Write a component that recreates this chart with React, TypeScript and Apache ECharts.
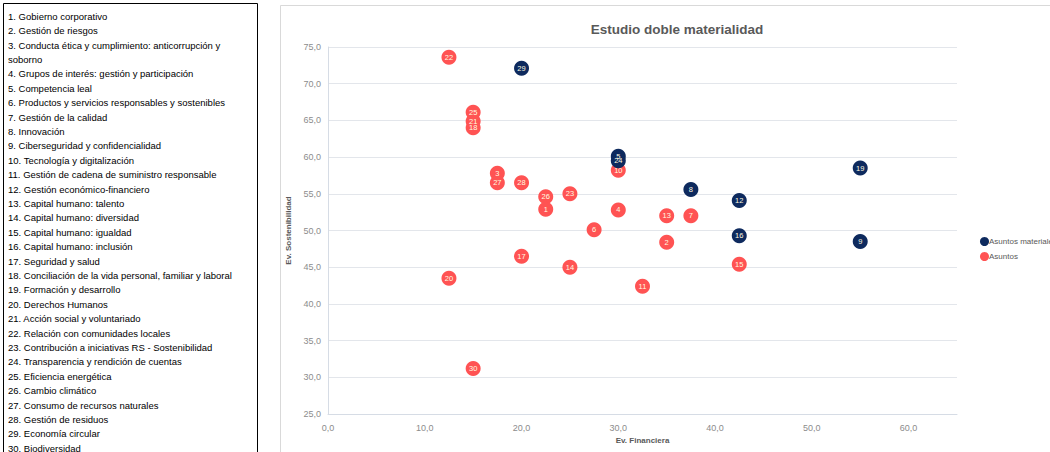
import React, { useEffect, useRef } from "react";
import * as echarts from "echarts";

const topics = [
  "1. Gobierno corporativo",
  "2. Gestión de riesgos",
  "3. Conducta ética y cumplimiento: anticorrupción y soborno",
  "4. Grupos de interés: gestión y participación",
  "5. Competencia leal",
  "6. Productos y servicios responsables y sostenibles",
  "7. Gestión de la calidad",
  "8. Innovación",
  "9. Ciberseguridad y confidencialidad",
  "10. Tecnología y digitalización",
  "11. Gestión de cadena de suministro responsable",
  "12. Gestión económico-financiero",
  "13. Capital humano: talento",
  "14. Capital humano: diversidad",
  "15. Capital humano: igualdad",
  "16. Capital humano: inclusión",
  "17. Seguridad y salud",
  "18. Conciliación de la vida personal, familiar y laboral",
  "19. Formación y desarrollo",
  "20. Derechos Humanos",
  "21. Acción social y voluntariado",
  "22. Relación con comunidades locales",
  "23. Contribución a iniciativas RS - Sostenibilidad",
  "24. Transparencia y rendición de cuentas",
  "25. Eficiencia energética",
  "26. Cambio climático",
  "27. Consumo de recursos naturales",
  "28. Gestión de residuos",
  "29. Economía circular",
  "30. Biodiversidad",
];

const seriesNames = ["Asuntos materiales", "Asuntos"];

const materialIds = [29, 5, 24, 8, 12, 16, 19, 9];
const materialFin = [20, 30, 30, 37.5, 42.5, 42.5, 55, 55];
const materialSos = [72.1, 60.1, 59.5, 55.6, 54.1, 49.3, 58.5, 48.5];

const otherIds = [22, 25, 21, 18, 3, 27, 28, 26, 1, 23, 10, 4, 6, 13, 7, 2, 17, 14, 15, 11, 20, 30];
const otherFin = [12.5, 15, 15, 15, 17.5, 17.5, 20, 22.5, 22.5, 25, 30, 30, 27.5, 35, 37.5, 35, 20, 25, 42.5, 32.5, 12.5, 15];
const otherSos = [73.6, 66.1, 64.9, 64.0, 57.8, 56.5, 56.5, 54.6, 52.9, 55.0, 58.2, 52.8, 50.1, 52.0, 52.0, 48.4, 46.5, 45.0, 45.4, 42.4, 43.5, 31.2];

const xTitle = "Ev. Financiera";
const yTitle = "Ev. Sostenibilidad";
const chartTitle = "Estudio doble materialidad";

const NAVY = "#0e2a5e";
const RED = "#ff5353";
const FONT = "'Liberation Sans', Arial, sans-serif";

const fmt = (v: number) => v.toFixed(1).replace(".", ",");

export default function App() {
  const ref = useRef<HTMLDivElement>(null);
  useEffect(() => {
    if (!ref.current) return;
    const chart = echarts.init(ref.current, null, { renderer: "svg" });
    const mk = (ids: number[], xs: number[], ys: number[]) =>
      ids.map((id, i) => ({ value: [xs[i], ys[i]], name: String(id) }));
    const labelCfg = {
      show: true,
      position: "inside",
      formatter: (p: any) => p.name,
      color: "#fffbe0",
      fontSize: 7.5,
      fontFamily: FONT,
    };
    chart.setOption({
      animation: false,
      backgroundColor: "#ffffff",
      textStyle: { fontFamily: FONT },
      title: {
        text: chartTitle,
        left: 672,
        top: 17,
        textAlign: "center",
        textStyle: { fontSize: 13.5, fontWeight: "bold", color: "#595959", fontFamily: FONT },
      },
      legend: {
        orient: "vertical",
        left: 975,
        top: 232,
        itemWidth: 9,
        itemHeight: 9,
        itemGap: 6,
        icon: "circle",
        data: seriesNames,
        textStyle: { fontSize: 8, color: "#595959", fontFamily: FONT, padding: [0, 0, 0, -5] },
      },
      grid: { left: 328, right: 93, top: 47, bottom: 38 },
      xAxis: {
        type: "value",
        min: 0,
        max: 65,
        interval: 10,
        name: xTitle,
        nameLocation: "middle",
        nameGap: 21,
        nameTextStyle: { fontSize: 8, fontWeight: "bold", color: "#595959", fontFamily: FONT },
        axisLine: { show: true, lineStyle: { color: "#d6dce5" } },
        axisTick: { show: false },
        splitLine: { show: false },
        axisLabel: {
          fontSize: 9,
          color: "#8c8c8c",
          margin: 9,
          formatter: (v: number) => (v % 10 === 0 ? fmt(v) : ""),
        },
      },
      yAxis: {
        type: "value",
        min: 25,
        max: 75,
        interval: 5,
        name: yTitle,
        nameLocation: "middle",
        nameGap: 19,
        nameRotate: 90,
        nameTextStyle: { fontSize: 8, fontWeight: "bold", color: "#595959", fontFamily: FONT },
        axisLine: { show: true, lineStyle: { color: "#d6dce5" } },
        axisTick: { show: false },
        splitLine: { show: true, lineStyle: { color: "#e3e6eb" } },
        axisLabel: { fontSize: 9, color: "#8c8c8c", margin: 7, formatter: (v: number) => fmt(v) },
      },
      graphic: [
        {
          type: "rect",
          z: -10,
          shape: { x: 280.5, y: 5.5, width: 780, height: 460 },
          style: { fill: "#ffffff", stroke: "#d9d9d9", lineWidth: 1 },
        },
        {
          type: "rect",
          shape: { x: 3.5, y: 3.5, width: 254, height: 470 },
          style: { fill: "#ffffff", stroke: "#000000", lineWidth: 1 },
        },
        {
          type: "text",
          left: 8,
          top: 9,
          style: {
            text: topics.join("\n"),
            width: 236,
            overflow: "break",
            lineHeight: 14.4,
            fontSize: 9.5,
            fontFamily: FONT,
            fill: "#000000",
          },
        },
      ],
      series: [
        {
          name: seriesNames[1],
          type: "scatter",
          symbolSize: 15,
          itemStyle: { color: RED, opacity: 1 },
          label: labelCfg,
          data: mk(otherIds, otherFin, otherSos),
          z: 2,
        },
        {
          name: seriesNames[0],
          type: "scatter",
          symbolSize: 15,
          itemStyle: { color: NAVY, opacity: 1 },
          label: labelCfg,
          data: mk(materialIds, materialFin, materialSos),
          z: 3,
        },
      ],
    });
    return () => chart.dispose();
  }, []);
  return (
    <div
      ref={ref}
      style={{ position: "fixed", left: 0, top: 0, width: 1050, height: 452, overflow: "hidden" }}
    />
  );
}
